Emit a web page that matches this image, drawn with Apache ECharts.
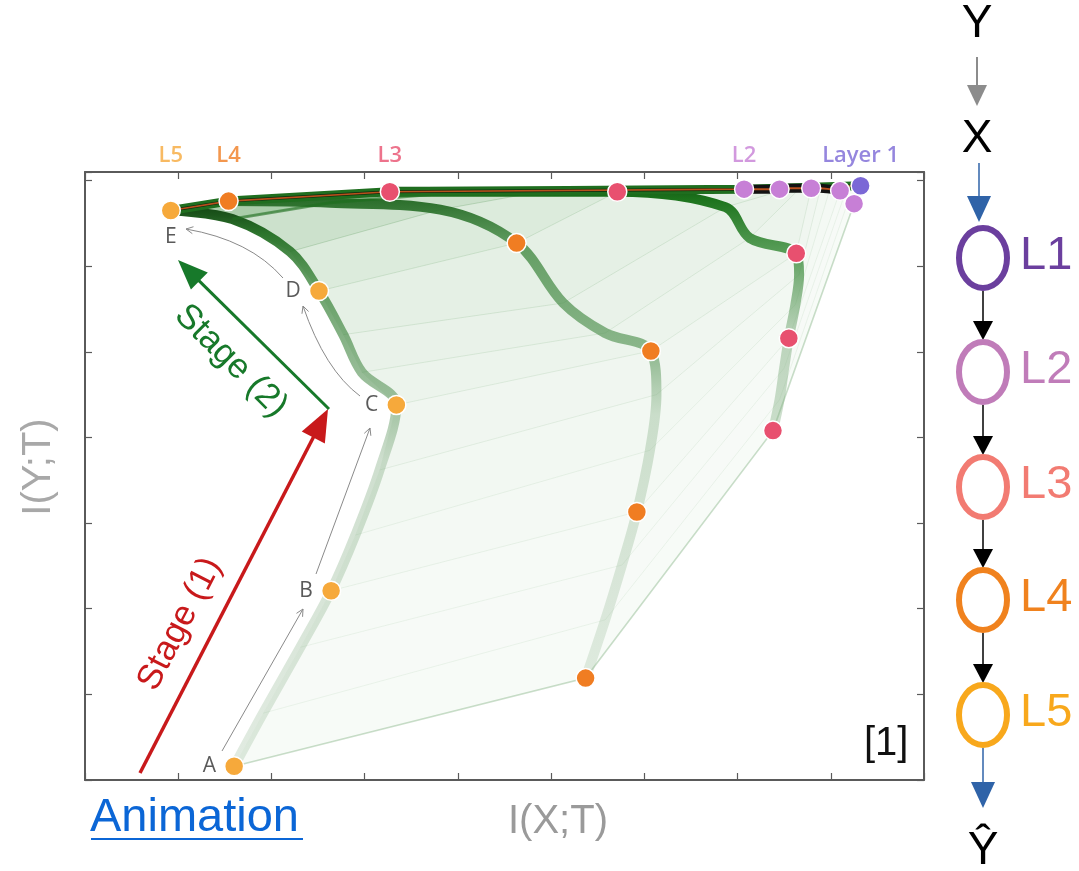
<!DOCTYPE html>
<html>
<head>
<meta charset="utf-8">
<script src="https://cdn.jsdelivr.net/npm/echarts@6/dist/echarts.min.js"></script>
<style>
  html, body { margin: 0; padding: 0; background: #ffffff; }
  #chart { width: 1079px; height: 871px; }
</style>
</head>
<body>
<div id="chart"></div>
<script>
// Information-plane trajectories: one [I(X;T), I(Y;T)] pair per training snapshot,
// 13 snapshots per layer, aligned so that index k is the same moment for every layer.
const layer5 = [[1.60,0.16],[1.91,0.78],[2.31,1.55],[2.64,2.21],[2.90,2.86],[3.16,3.62],[3.34,4.38],
                [2.97,4.76],[2.77,5.20],[2.51,5.71],[2.20,6.17],[1.58,6.55],[0.92,6.65]];
const layer4 = [[5.37,1.19],[5.58,1.87],[5.76,2.51],[5.92,3.13],[6.06,3.85],[6.13,4.50],[6.07,5.01],
                [5.58,5.22],[5.13,5.57],[4.63,6.27],[3.81,6.66],[2.63,6.74],[1.54,6.76]];
const layer3 = [[7.38,4.08],[7.45,4.44],[7.50,4.81],[7.55,5.16],[7.62,5.55],[7.66,5.90],[7.63,6.15],
                [7.13,6.33],[6.87,6.69],[5.71,6.87],[4.88,6.87],[4.08,6.87],[3.27,6.87]];
const layer2 = [[8.25,6.73],[8.20,6.80],[8.15,6.84],[8.10,6.88],[7.99,6.90],[7.89,6.91],[7.79,6.91],
                [7.67,6.91],[7.56,6.91],[7.45,6.90],[7.32,6.90],[7.19,6.90],[7.07,6.90]];
const layer1 = [[8.32,6.94],[8.32,6.94],[8.32,6.94],[8.32,6.94],[8.32,6.94],[8.32,6.94],[8.32,6.94],
                [8.32,6.94],[8.32,6.94],[8.32,6.94],[8.32,6.94],[8.32,6.94],[8.32,6.94]];

// snapshots marked with a dot, and the letters naming the last layer's stops
const dotSnapshots = [0, 3, 6, 9, 12];
const stageLetters = ['A', 'B', 'C', 'D', 'E'];

// layer names shown above the frame, placed over each layer's final position
const topNames = ['L5', 'L4', 'L3', 'L2', 'Layer 1'];

// axis ranges (no tick labels are drawn)
const xRange = [0, 9];
const yRange = [0, 7.1];

// shading between consecutive snapshot lines (grows towards the end of training)
const fanAlpha = [0.035, 0.04, 0.045, 0.05, 0.06, 0.07, 0.085, 0.1, 0.12, 0.16, 0.24, 0.4];
const lineAlpha = [0.25, 0.07, 0.07, 0.08, 0.08, 0.09, 0.1, 0.11, 0.12, 0.14, 0.2, 0.3, 0.5];

const layerColors = ['#f6a93b', '#f07d22', '#e8506f', '#c77fd6', '#7b68d6'];
const layersOut = [layer5, layer4, layer3, layer2, layer1];   // L5 .. L1
const layersIn = [layer1, layer2, layer3, layer4, layer5];    // L1 .. L5

const chart = echarts.init(document.getElementById('chart'), null, { renderer: 'canvas' });

function snapshotLine(k) { return layersIn.map(L => L[k]); }

function axisCommon(pos) {
  return {
    type: 'value', position: pos, interval: 1,
    axisLine: { show: true, onZero: false, lineStyle: { color: '#5a5a5a', width: 2 } },
    axisTick: { show: true, inside: true, length: 7, lineStyle: { color: '#5a5a5a', width: 1.2 } },
    axisLabel: { show: false },
    splitLine: { show: false }
  };
}

const series = [];

// pale fan between consecutive snapshot lines
series.push({
  type: 'custom', z: 1, silent: true, clip: true,
  data: fanAlpha.map((a, k) => [layer5[k][0], layer5[k][1], k]),
  encode: { x: 0, y: 1 },
  renderItem: function (params, api) {
    const k = params.dataIndex;
    const pts = [];
    layersIn.forEach(L => pts.push(api.coord(L[k])));
    for (let j = layersIn.length - 1; j >= 0; j--) pts.push(api.coord(layersIn[j][k + 1]));
    return { type: 'polygon', shape: { points: pts }, style: { fill: 'rgba(40,130,40,' + fanAlpha[k] + ')' } };
  }
});

// snapshot lines L1 -> L5
series.push({
  type: 'custom', z: 2, silent: true, clip: true,
  data: lineAlpha.map((a, k) => [layer5[k][0], layer5[k][1], k]),
  encode: { x: 0, y: 1 },
  renderItem: function (params, api) {
    const k = params.dataIndex;
    const pts = snapshotLine(k).map(p => api.coord(p));
    return { type: 'polyline', shape: { points: pts },
             style: { stroke: 'rgba(45,125,45,' + lineAlpha[k] + ')', lineWidth: k === 0 ? 1.6 : 1, fill: null } };
  }
});

function grad(stops) {
  return { type: 'linear', x: 0, y: 1, x2: 0, y2: 0, colorStops: stops.map(s => ({ offset: s[0], color: s[1] })) };
}

// per-layer trajectory bands
const bandStops = [
  [[0, 'rgba(150,185,150,0.28)'], [0.55, 'rgba(120,165,120,0.36)'], [0.66, 'rgba(85,145,85,0.55)'],
   [0.86, 'rgba(55,130,55,0.75)'], [0.95, 'rgba(35,110,35,0.95)'], [1, 'rgba(20,70,20,1)']],
  [[0, 'rgba(150,185,150,0.26)'], [0.55, 'rgba(125,170,125,0.34)'], [0.68, 'rgba(80,145,80,0.62)'],
   [0.9, 'rgba(55,130,55,0.75)'], [1, 'rgba(30,100,30,0.95)']],
  [[0, 'rgba(130,175,130,0.38)'], [0.4, 'rgba(115,165,115,0.45)'], [0.74, 'rgba(50,135,50,0.8)'],
   [0.95, 'rgba(28,115,28,1)'], [1, 'rgba(20,90,20,1)']]
];
[layer5, layer4, layer3].forEach((L, i) => {
  series.push({
    type: 'line', z: 3, silent: true, data: L, showSymbol: false, smooth: 0.35,
    lineStyle: { width: 10, cap: 'round', join: 'round', color: grad(bandStops[i]) }
  });
});

// final snapshots: dark band with a thin brown core
const nextLine = snapshotLine(11).slice().reverse();
const lastLine = snapshotLine(12).slice().reverse();
series.push({ type: 'line', z: 4, silent: true, data: nextLine, showSymbol: false,
  lineStyle: { width: 3, color: 'rgba(30,110,30,0.6)', join: 'round' } });
series.push({ type: 'line', z: 4, silent: true, data: lastLine, showSymbol: false,
  lineStyle: { width: 9, color: '#1f6e1f', join: 'round' } });
series.push({ type: 'line', z: 4, silent: true, data: lastLine, showSymbol: false,
  lineStyle: { width: 3, color: '#0f2a0f', join: 'round' } });
series.push({ type: 'line', z: 4, silent: true, data: lastLine, showSymbol: false,
  lineStyle: { width: 1.6, color: '#b8501c' } });

// layer-2 trajectory (black band with brown core)
series.push({ type: 'line', z: 4, silent: true, data: layer2.slice(3), showSymbol: false,
  lineStyle: { width: 9, color: '#121212' } });
series.push({ type: 'line', z: 4, silent: true, data: layer2.slice(3), showSymbol: false,
  lineStyle: { width: 2, color: '#b8501c' } });

// dots at the marked snapshots
layersOut.forEach((L, i) => {
  const idx = i === 4 ? [0] : dotSnapshots;
  series.push({
    type: 'scatter', z: 6, silent: true, symbolSize: 19,
    itemStyle: { color: layerColors[i], borderColor: '#ffffff', borderWidth: 1.5, opacity: 1 },
    data: idx.map((k, j) => {
      const item = { value: L[k] };
      if (i === 0) {
        item.label = {
          show: true, formatter: stageLetters[j], color: '#5a5a5a', fontSize: 21,
          fontFamily: 'Open Sans', position: j === 4 ? 'bottom' : 'left', distance: j === 4 ? 6 : 8
        };
      }
      return item;
    }),
    clip: false
  });
});

// layer names above the frame
series.push({
  type: 'scatter', z: 6, silent: true, symbolSize: 0, clip: false,
  data: layersOut.map((L, i) => ({
    value: [L[12][0], yRange[1]],
    label: { show: true, position: 'top', distance: 5, formatter: topNames[i],
             color: layerColors[i], fontSize: 22, fontWeight: 600, fontFamily: 'Open Sans' }
  }))
});

// ---------- annotation helpers (pixel space) ----------
function headPts(tip, from, len, half) {
  const dx = tip[0] - from[0], dy = tip[1] - from[1];
  const d = Math.hypot(dx, dy), ux = dx / d, uy = dy / d;
  const bx = tip[0] - ux * len, by = tip[1] - uy * len;
  return [[bx + uy * half, by - ux * half], tip, [bx - uy * half, by + ux * half]];
}
function filledArrow(from, tip, color, width, len, half) {
  const d = Math.hypot(tip[0] - from[0], tip[1] - from[1]);
  const t = (d - len + 1) / d;
  const end = [from[0] + (tip[0] - from[0]) * t, from[1] + (tip[1] - from[1]) * t];
  return [
    { type: 'line', shape: { x1: from[0], y1: from[1], x2: end[0], y2: end[1] }, style: { stroke: color, lineWidth: width } },
    { type: 'polygon', shape: { points: headPts(tip, from, len, half) }, style: { fill: color } }
  ];
}
function thinArrow(from, tip, ctrl) {
  const els = [];
  if (ctrl) {
    els.push({ type: 'bezierCurve', shape: { x1: from[0], y1: from[1], x2: tip[0], y2: tip[1], cpx1: ctrl[0], cpy1: ctrl[1] },
               style: { stroke: '#8a8a8a', lineWidth: 1, fill: null } });
  } else {
    els.push({ type: 'line', shape: { x1: from[0], y1: from[1], x2: tip[0], y2: tip[1] }, style: { stroke: '#8a8a8a', lineWidth: 1 } });
  }
  els.push({ type: 'polyline', shape: { points: headPts(tip, ctrl || from, 7, 3.5) }, style: { stroke: '#8a8a8a', lineWidth: 1, fill: null } });
  return els;
}
function txt(x, y, text, font, fill, extra) {
  return Object.assign({
    type: 'text', x: x, y: y, z: 20,
    style: { text: text, x: 0, y: 0, font: font, fill: fill,
             textAlign: 'center', align: 'center', textVerticalAlign: 'middle', verticalAlign: 'middle' }
  }, extra || {});
}

const graphics = [];
// letters' guide arrows
graphics.push(...thinArrow([222, 751], [303, 609]));
graphics.push(...thinArrow([316, 574], [370, 428]));
graphics.push(...thinArrow([360, 396], [303, 306], [325, 370]));
graphics.push(...thinArrow([283, 278], [186, 229], [250, 240]));

// stage arrows
graphics.push(...filledArrow([140, 773], [328, 409], '#c8191b', 3.5, 32, 13));
graphics.push(...filledArrow([329, 409], [178, 260], '#17792a', 3, 30, 12));
graphics.push(txt(180, 624, 'Stage (1)', '35px "Liberation Sans"', '#c8191b', { rotation: 1.094 }));
graphics.push(txt(231, 361, 'Stage (2)', '35px "Liberation Sans"', '#17792a', { rotation: -0.785 }));

// axis titles
graphics.push(txt(558, 822, 'I(X;T)', '40px "Liberation Sans"', '#9a9a9a'));
graphics.push(txt(39, 467, 'I(Y;T)', '40px "Liberation Sans"', '#a8a8a8', { rotation: Math.PI / 2 }));

// link caption and reference mark
graphics.push({ type: 'text', left: 90, top: 795, z: 20,
  style: { text: 'Animation', font: '47px "Liberation Sans"', fill: '#0b66d6' } });
graphics.push({ type: 'line', z: 20, shape: { x1: 91, y1: 839, x2: 303, y2: 839 }, style: { stroke: '#0b66d6', lineWidth: 2 } });
graphics.push({ type: 'text', left: 864, top: 724, z: 20,
  style: { text: '[1]', font: '40px "Liberation Sans"', fill: '#111111' } });

// network diagram on the right
const netX = 983;
const ringCenters = [258, 372, 487, 600, 715];
const ringColors = ['#6b3f9e', '#c07cb9', '#f27b72', '#f0821e', '#f8a81c'];
const ringNames = ['L1', 'L2', 'L3', 'L4', 'L5'];
graphics.push(txt(977, 24, 'Y', '46px "Liberation Sans"', '#000000'));
graphics.push(...filledArrow([977, 57], [977, 106], '#8c8c8c', 2, 21, 10));
graphics.push(txt(977, 139, 'X', '46px "Liberation Sans"', '#000000'));
graphics.push(...filledArrow([979, 163], [979, 222], '#2f63a8', 1.5, 26, 12));
ringCenters.forEach((cy, i) => {
  graphics.push({ type: 'ellipse', z: 20, shape: { cx: netX, cy: cy, rx: 24, ry: 30 },
                  style: { stroke: ringColors[i], lineWidth: 6, fill: null } });
  graphics.push({ type: 'text', z: 20, left: 1020, top: cy - 25,
                  style: { text: ringNames[i], font: '47px "Liberation Sans"', fill: ringColors[i] } });
  if (i < ringCenters.length - 1) {
    graphics.push(...filledArrow([netX, cy + 33], [netX, ringCenters[i + 1] - 32], '#000000', 1.5, 19, 10));
  }
});
graphics.push(...filledArrow([netX, 748], [netX, 808], '#2f63a8', 1.5, 26, 12));
graphics.push(txt(netX, 851, 'Ŷ', '46px "Liberation Sans"', '#000000'));

chart.setOption({
  animation: false,
  backgroundColor: '#ffffff',
  grid: { left: 85, top: 172, right: 155, bottom: 91, show: false },
  xAxis: [
    Object.assign(axisCommon('bottom'), { min: xRange[0], max: xRange[1] }),
    Object.assign(axisCommon('top'), { min: xRange[0], max: xRange[1] })
  ],
  yAxis: [
    Object.assign(axisCommon('left'), { min: yRange[0], max: yRange[1] }),
    Object.assign(axisCommon('right'), { min: yRange[0], max: yRange[1] })
  ],
  series: series,
  graphic: { elements: graphics }
});
</script>
</body>
</html>
